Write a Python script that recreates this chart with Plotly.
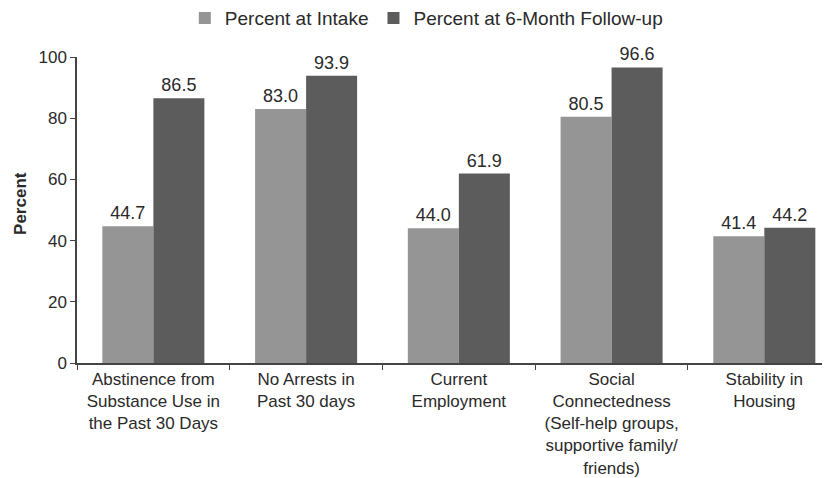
import plotly.graph_objects as go

categories = [
    "Abstinence from<br>Substance Use in<br>the Past 30 Days",
    "No Arrests in<br>Past 30 days",
    "Current<br>Employment",
    "Social<br>Connectedness<br>(Self-help groups,<br>supportive family/<br>friends)",
    "Stability in<br>Housing",
]
intake = [44.7, 83.0, 44.0, 80.5, 41.4]
followup = [86.5, 93.9, 61.9, 96.6, 44.2]
y_ticks = [0, 20, 40, 60, 80, 100]

font_family = "Liberation Sans, Arial, sans-serif"
text_color = "#2a2a2a"
axis_color = "#444444"

fig = go.Figure()
fig.add_trace(go.Bar(
    x=categories, y=intake, name="Percent at Intake",
    marker=dict(color="#959595", line=dict(width=0)),
    text=[f"{v:.1f}" for v in intake], textposition="outside",
    textfont=dict(size=18, color=text_color), cliponaxis=False,
))
fig.add_trace(go.Bar(
    x=categories, y=followup, name="Percent at 6-Month Follow-up",
    marker=dict(color="#5c5c5c", line=dict(width=0)),
    text=[f"{v:.1f}" for v in followup], textposition="outside",
    textfont=dict(size=18, color=text_color), cliponaxis=False,
))

# page is offset by the 8px body margin; margins compensate for it
fig.update_layout(
    width=830, height=478,
    margin=dict(l=69, r=8, t=49, b=123, autoexpand=False),
    paper_bgcolor="white", plot_bgcolor="white",
    font=dict(family=font_family, size=17, color=text_color),
    barmode="group", bargap=0.332, bargroupgap=0,
    showlegend=True,
    legend=dict(orientation="h", xref="container", yref="container",
                x=0.504, y=0.979, xanchor="center", yanchor="middle",
                font=dict(size=19, color=text_color), itemwidth=30,
                traceorder="normal"),
    xaxis=dict(range=[-0.5, 4.43], showline=True, linecolor=axis_color, linewidth=1.5,
               ticks="outside", tickson="boundaries", ticklen=5, tickcolor=axis_color,
               showgrid=False, tickfont=dict(size=17, color=text_color), automargin=False),
    yaxis=dict(range=[0, 100], tickvals=y_ticks, showline=True, linecolor=axis_color,
               linewidth=1.5, ticks="outside", ticklen=5, tickcolor=axis_color,
               showgrid=False, zeroline=False, automargin=False,
               tickfont=dict(size=17, color=text_color)),
    annotations=[dict(text="<b>Percent</b>", textangle=-90, xref="paper", yref="paper",
                      x=-0.0744, y=0.523, xanchor="center", yanchor="middle",
                      showarrow=False, font=dict(size=17, color=text_color))],
)

fig.write_html("out.html")
